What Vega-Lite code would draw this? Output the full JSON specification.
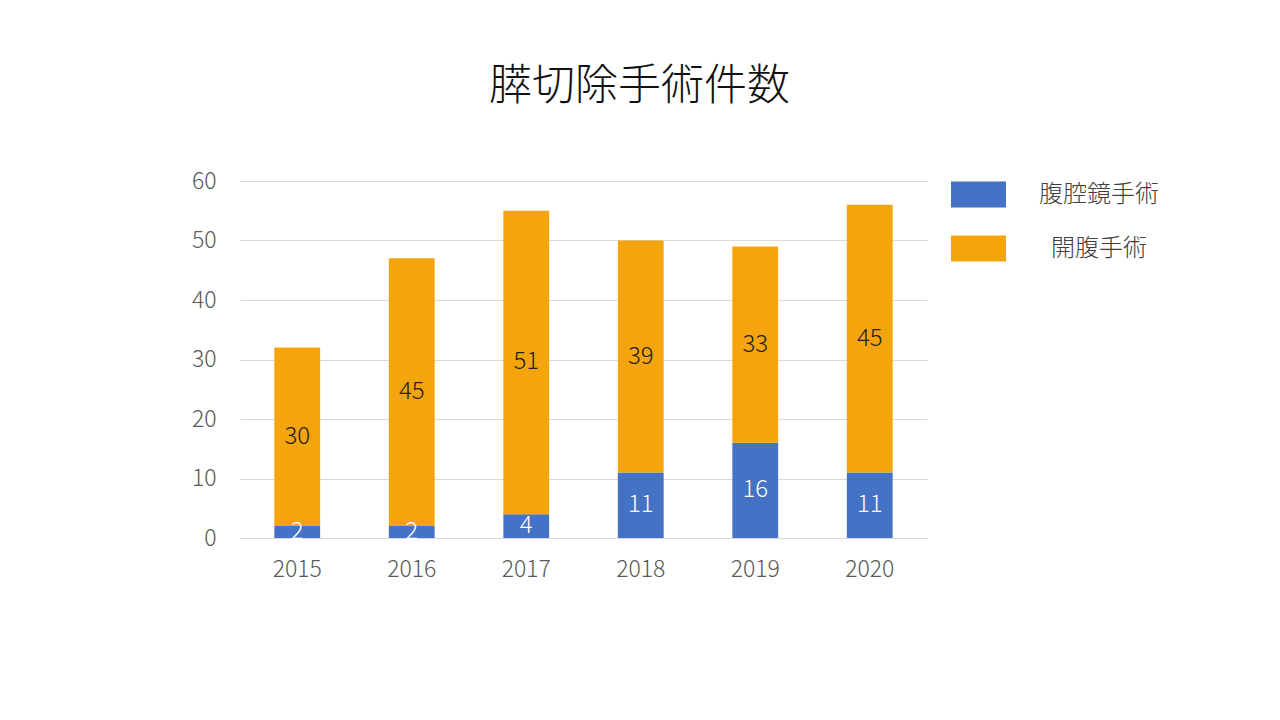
{
  "$schema": "https://vega.github.io/schema/vega-lite/v6.json",
  "width": 687,
  "height": 357,
  "autosize": {"type": "none"},
  "padding": {"left": 240, "top": 181, "right": 353, "bottom": 182},
  "background": "white",
  "config": {"view": {"stroke": null}},
  "title": {
    "text": "膵切除手術件数",
    "font": "Noto Sans CJK JP",
    "fontSize": 43,
    "fontWeight": 300,
    "color": "#111111",
    "anchor": "middle",
    "dx": 56,
    "offset": 58
  },
  "data": {
    "values": [
      {"year": "2015", "type": "腹腔鏡手術", "count": 2},
      {"year": "2015", "type": "開腹手術", "count": 30},
      {"year": "2016", "type": "腹腔鏡手術", "count": 2},
      {"year": "2016", "type": "開腹手術", "count": 45},
      {"year": "2017", "type": "腹腔鏡手術", "count": 4},
      {"year": "2017", "type": "開腹手術", "count": 51},
      {"year": "2018", "type": "腹腔鏡手術", "count": 11},
      {"year": "2018", "type": "開腹手術", "count": 39},
      {"year": "2019", "type": "腹腔鏡手術", "count": 16},
      {"year": "2019", "type": "開腹手術", "count": 33},
      {"year": "2020", "type": "腹腔鏡手術", "count": 11},
      {"year": "2020", "type": "開腹手術", "count": 45}
    ]
  },
  "encoding": {
    "x": {
      "field": "year",
      "type": "nominal",
      "scale": {"paddingInner": 0.6, "paddingOuter": 0.3},
      "axis": {
        "title": null,
        "labelAngle": 0,
        "labelFont": "Noto Sans CJK JP",
        "labelFontSize": 23,
        "labelFontWeight": 300,
        "labelColor": "#595959",
        "labelPadding": 20,
        "ticks": false,
        "domain": true,
        "domainColor": "#d9d9d9",
        "domainWidth": 1,
        "grid": false
      }
    }
  },
  "layer": [
    {
      "mark": {"type": "bar"},
      "encoding": {
        "y": {
          "field": "count",
          "type": "quantitative",
          "stack": "zero",
          "scale": {"domain": [0, 60], "nice": false},
          "axis": {
            "title": null,
            "values": [0, 10, 20, 30, 40, 50, 60],
            "labelFont": "Noto Sans CJK JP",
            "labelFontSize": 23,
            "labelFontWeight": 300,
            "labelColor": "#595959",
            "labelPadding": 24,
            "ticks": false,
            "domain": false,
            "grid": true,
            "gridColor": "#d9d9d9",
            "gridWidth": 1
          }
        },
        "color": {
          "field": "type",
          "type": "nominal",
          "scale": {"domain": ["腹腔鏡手術", "開腹手術"], "range": ["#4472C4", "#F4A50E"]},
          "legend": {
            "title": null,
            "orient": "none",
            "legendX": 711,
            "legendY": -14,
            "symbolType": "M-1,-0.473H1V0.473H-1Z",
            "symbolSize": 3025,
            "symbolStrokeWidth": 0,
            "symbolOpacity": 1,
            "labelFont": "Noto Sans CJK JP",
            "labelFontSize": 24,
            "labelFontWeight": 300,
            "labelColor": "#404040",
            "labelOffset": 93,
            "labelAlign": "center",
            "rowPadding": 13,
            "padding": 0
          }
        },
        "order": {"field": "type", "sort": "ascending"}
      }
    },
    {
      "transform": [
        {"stack": "count", "groupby": ["year"], "sort": [{"field": "type", "order": "ascending"}], "as": ["y0", "y1"]},
        {"calculate": "(datum.y0 + datum.y1) / 2", "as": "mid"}
      ],
      "mark": {"type": "text", "font": "Noto Sans CJK JP", "fontSize": 24, "fontWeight": 300, "baseline": "middle", "align": "center"},
      "encoding": {
        "y": {"field": "mid", "type": "quantitative"},
        "text": {"field": "count", "type": "quantitative"},
        "color": {
          "condition": {"test": "datum.type === '腹腔鏡手術'", "value": "#ffffff"},
          "value": "#222222"
        }
      }
    }
  ]
}
